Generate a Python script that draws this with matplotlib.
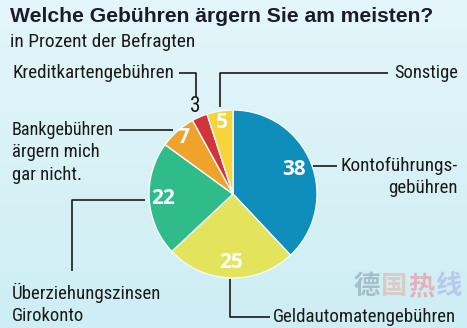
import numpy as np
import matplotlib
matplotlib.use("Agg")
import matplotlib.pyplot as plt
from matplotlib.colors import LinearSegmentedColormap

# Data
categories = ["Kontoführungsgebühren", "Geldautomatengebühren", "Überziehungszinsen Girokonto",
              "Bankgebühren ärgern mich gar nicht.", "Kreditkartengebühren", "Sonstige"]
values = [38, 25, 22, 7, 3, 5]
colors = ["#0f8dbb", "#e3e35c", "#30bb8b", "#f0a32a", "#d1343b", "#f5d43c"]
label_colors = ["white", "white", "white", "white", "#1a1a1a", "white"]
label_radius = [0.78, 0.82, 0.83, 0.90, 1.14, 0.86]

title = "Welche Gebühren ärgern Sie am meisten?"
subtitle = "in Prozent der Befragten"

W, H = 467, 328
fig = plt.figure(figsize=(W / 100, H / 100), dpi=100)
ax = fig.add_axes([0, 0, 1, 1])

# background gradient
grad = np.linspace(0, 1, 256).reshape(-1, 1)
cmap = LinearSegmentedColormap.from_list("bg", ["#e4f6f9", "#cdeef4"])
ax.imshow(grad, extent=[0, W, 0, H], origin="upper", cmap=cmap, aspect="auto", zorder=0)

def Y(y):
    return H - y

cx, cy, R = 233, 194, 84
wedges, _ = ax.pie(values, colors=colors, startangle=90, counterclock=False,
                   center=(cx, Y(cy)), radius=R,
                   wedgeprops=dict(edgecolor="#f4fbfc", linewidth=1.0))
for w in wedges:
    w.set_zorder(2)

ax.set_xlim(0, W)
ax.set_ylim(0, H)
ax.set_aspect("auto")
ax.axis("off")

renderer = fig.canvas.get_renderer()
cond = ["Roboto Condensed", "DejaVu Sans"]

def fit_text(x, y, s, target_w, fs=14, **kw):
    t = ax.text(x, Y(y), s, fontsize=fs, **kw)
    w = t.get_window_extent(renderer).width
    t.set_fontsize(fs * target_w / w)
    return t

numfont = ["Open Sans", "DejaVu Sans"]
for w, v, c, rf in zip(wedges, values, label_colors, label_radius):
    mid = np.deg2rad((w.theta1 + w.theta2) / 2)
    x = cx + rf * R * np.cos(mid)
    y = Y(cy) + rf * R * np.sin(mid)
    ax.text(x, y, str(v), color=c, fontsize=15 if c == "white" else 15.5,
            fontweight="bold" if c == "white" else "normal",
            family=numfont if c == "white" else cond, stretch="condensed",
            ha="center", va="center", zorder=4)

lc = "#1a1a1a"
lw = 1.2
def line(xs, ys):
    ax.plot(xs, [Y(v) for v in ys], color=lc, lw=lw, zorder=3, solid_capstyle="butt")

kw = dict(family=cond, stretch="condensed", color=lc, va="center")
# Kreditkarten
fit_text(12, 73, "Kreditkartengebühren", 163, ha="left", **kw)
line([179, 196, 196], [73, 73, 97])
# Sonstige
fit_text(458, 73, "Sonstige", 64, ha="right", **kw)
line([220, 220, 388], [107, 73, 73])
# Bankgebühren
fit_text(12, 130, "Bankgebühren", 103, ha="left", **kw)
fit_text(12, 152, "ärgern mich", 88, ha="left", **kw)
fit_text(12, 175, "gar nicht.", 70, ha="left", **kw)
line([119, 173], [130, 130])
# Überziehungszinsen
line([145, 72, 72], [200, 200, 271])
fit_text(12, 293, "Überziehungszinsen", 151, ha="left", **kw)
fit_text(12, 316, "Girokonto", 72, ha="left", **kw)
# Geldautomaten
line([230, 230, 270], [279, 317, 317])
fit_text(273, 317, "Geldautomatengebühren", 185, ha="left", **kw)
# Kontoführung
line([313, 337], [166, 166])
fit_text(458, 166, "Kontoführungs-", 118, ha="right", **kw)
fit_text(458, 188, "gebühren", 70, ha="right", **kw)

# Title
fit_text(10, 16, title, 425, fontweight="bold", family=["Liberation Sans", "DejaVu Sans"],
         color="#1c1c28", va="center", ha="left")
fit_text(10, 42, subtitle, 187, ha="left", **kw)

# watermark
wm_chars = ["德", "国", "热", "线"]
wm_cols = ["#9cb2bd", "#dcc2ba", "#eaa3ae", "#b1c0ea"]
for i, (ch, col) in enumerate(zip(wm_chars, wm_cols)):
    ax.text(367 + i * 27, Y(287), ch, fontsize=19, fontweight="bold",
            family=["Noto Sans CJK SC"], color=col, alpha=0.8, va="center", ha="center", zorder=1)

fig.savefig("out.png", dpi=100)
